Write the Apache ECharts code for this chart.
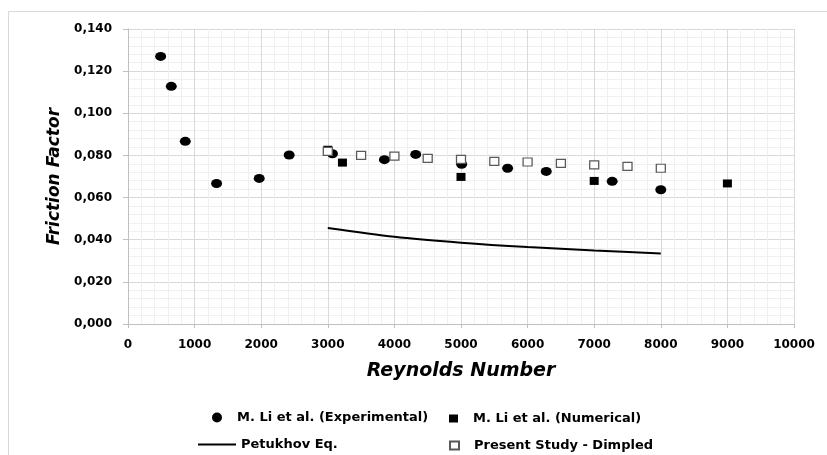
<!DOCTYPE html>
<html>
<head>
<meta charset="utf-8">
<script src="https://cdn.jsdelivr.net/npm/echarts@6/dist/echarts.min.js"></script>
<style>
html,body{margin:0;padding:0;background:#fff;}
#chart{width:827px;height:455px;}
</style>
</head>
<body>
<div id="chart"></div>
<script>
// ---- data ----
const expRe = [490, 650, 860, 1330, 1970, 2420, 3070, 3850, 4320, 5010, 5700, 6280, 7270, 8000];
const expF  = [0.127, 0.1128, 0.0867, 0.0667, 0.0691, 0.0802, 0.0808, 0.0780, 0.0805, 0.0758, 0.0739, 0.0724, 0.0677, 0.0637];

const numRe = [3000, 3220, 5000, 7000, 9000];
const numF  = [0.0827, 0.0766, 0.0698, 0.0679, 0.0667];

const petRe = [3000, 4000, 5000, 6000, 7000, 8000];
const petF  = [0.0456, 0.0414, 0.0386, 0.0365, 0.0349, 0.0335];

const presRe = [3000, 3500, 4000, 4500, 5000, 5500, 6000, 6500, 7000, 7500, 8000];
const presF  = [0.0819, 0.0800, 0.0797, 0.0786, 0.0781, 0.0772, 0.0769, 0.0762, 0.0755, 0.0748, 0.0739];

const seriesNames = ['M. Li et al. (Experimental)', 'M. Li et al. (Numerical)', 'Petukhov Eq.', 'Present Study - Dimpled'];
const xTitle = 'Reynolds Number';
const yTitle = 'Friction Factor';

const zip = (a, b) => a.map((v, i) => [v, b[i]]);
const FONT = 'DejaVu Sans';

const chart = echarts.init(document.getElementById('chart'), null, {renderer: 'canvas'});
const legendText = {fontFamily: FONT, fontWeight: 'bold', fontSize: 13, color: '#000'};

chart.setOption({
  animation: false,
  backgroundColor: '#fff',
  graphic: [{
    type: 'rect', silent: true, z: -10,
    shape: {x: 8.5, y: 11.5, width: 900, height: 500},
    style: {fill: 'none', stroke: '#d9d9d9', lineWidth: 1}
  }],
  grid: {left: 128, right: 33, top: 29, bottom: 131, containLabel: false},
  xAxis: {
    type: 'value', min: 0, max: 10000, interval: 1000,
    name: xTitle, nameLocation: 'middle', nameGap: 38,
    nameTextStyle: {fontFamily: FONT, fontWeight: 'bold', fontStyle: 'italic', fontSize: 19, color: '#000'},
    axisLine: {show: true, lineStyle: {color: '#bfbfbf', width: 1}},
    axisTick: {show: true, length: 4, lineStyle: {color: '#bfbfbf'}},
    axisLabel: {fontFamily: FONT, fontWeight: 'bold', fontSize: 12, color: '#000', margin: 15,
      formatter: v => String(v)},
    splitLine: {show: true, lineStyle: {color: '#d9d9d9', width: 1}},
    minorTick: {show: false, splitNumber: 5},
    minorSplitLine: {show: true, lineStyle: {color: '#f0f0f0', width: 1}}
  },
  yAxis: {
    type: 'value', min: 0, max: 0.14, interval: 0.02,
    name: yTitle, nameLocation: 'middle', nameGap: 64, nameRotate: 90,
    nameTextStyle: {fontFamily: FONT, fontWeight: 'bold', fontStyle: 'italic', fontSize: 17, color: '#000'},
    axisLine: {show: true, lineStyle: {color: '#bfbfbf', width: 1}},
    axisTick: {show: true, length: 5, lineStyle: {color: '#bfbfbf'}},
    axisLabel: {fontFamily: FONT, fontWeight: 'bold', fontSize: 12, color: '#000', margin: 16,
      formatter: v => v.toFixed(3).replace('.', ',')},
    splitLine: {show: true, lineStyle: {color: '#d9d9d9', width: 1}},
    minorTick: {show: false, splitNumber: 5},
    minorSplitLine: {show: true, lineStyle: {color: '#f0f0f0', width: 1}}
  },
  legend: [
    {data: [{name: seriesNames[0], icon: 'circle'}], left: 207, top: 406, itemWidth: 12, itemHeight: 10,
     textStyle: Object.assign({padding: [0, 0, 0, 9]}, legendText)},
    {data: [{name: seriesNames[1], icon: 'rect'}], left: 444, top: 407, itemWidth: 9, itemHeight: 8,
     textStyle: Object.assign({padding: [0, 0, 0, 10]}, legendText)},
    {data: [{name: seriesNames[2], icon: 'rect', itemStyle: {color: '#000'}}], left: 193, top: 433, itemWidth: 38, itemHeight: 2,
     textStyle: Object.assign({}, legendText)},
    {data: [{name: seriesNames[3], icon: 'rect'}], left: 444, top: 434, itemWidth: 9, itemHeight: 8,
     textStyle: Object.assign({padding: [0, 0, 0, 10]}, legendText)}
  ],
  series: [
    {name: seriesNames[0], type: 'scatter', data: zip(expRe, expF), symbol: 'circle', symbolSize: [11, 9],
     itemStyle: {color: '#000', opacity: 1}},
    {name: seriesNames[1], type: 'scatter', data: zip(numRe, numF), symbol: 'rect', symbolSize: [9, 8],
     itemStyle: {color: '#000', opacity: 1}},
    {name: seriesNames[2], type: 'line', data: zip(petRe, petF), showSymbol: false, symbol: 'none', smooth: 0.3,
     lineStyle: {color: '#000', width: 2}, itemStyle: {color: '#000'}},
    {name: seriesNames[3], type: 'scatter', data: zip(presRe, presF), symbol: 'rect', symbolSize: [9, 8],
     itemStyle: {color: '#fff', borderColor: '#595959', borderWidth: 1.2, opacity: 1}}
  ]
});
</script>
</body>
</html>
